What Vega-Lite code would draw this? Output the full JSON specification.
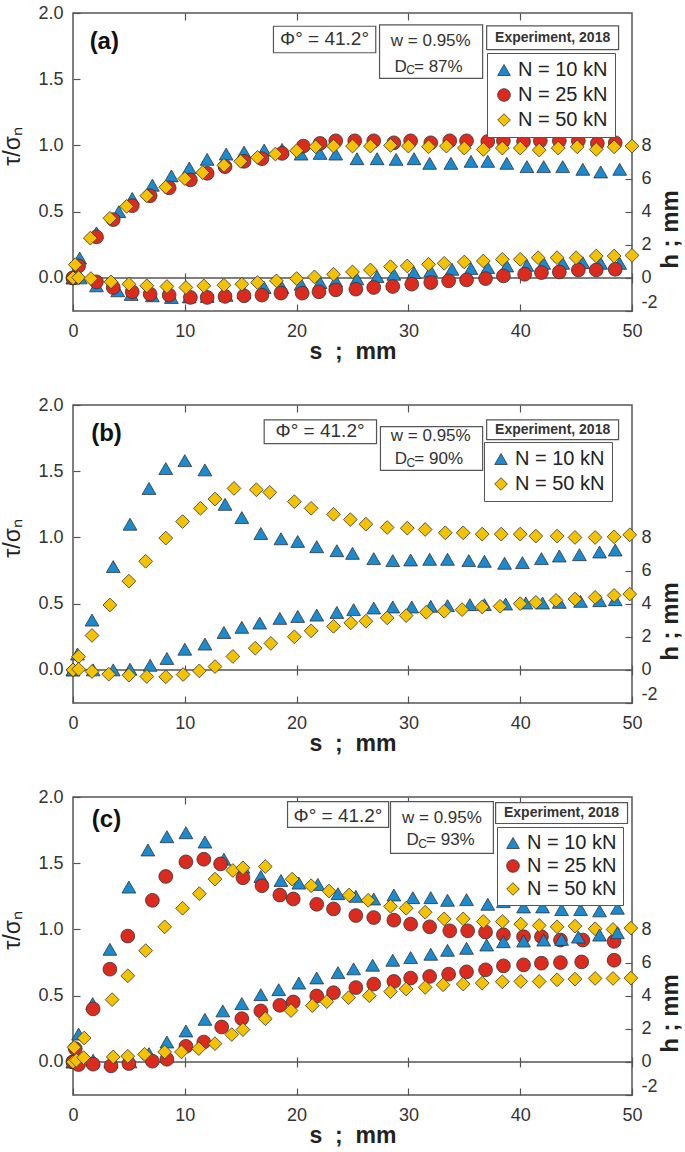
{
  "$schema": "https://vega.github.io/schema/vega-lite/v6.json",
  "background": "white",
  "padding": {"left": 0, "top": 3, "right": 0, "bottom": 0},
  "autosize": {"type": "pad"},
  "spacing": 31,
  "config": {
    "font": "Liberation Sans",
    "view": {"stroke": "#555", "strokeWidth": 1.5},
    "axis": {"labelFontSize": 18, "labelColor": "#333", "tickColor": "#555", "tickWidth": 1.2, "domain": false, "grid": false, "titleColor": "#222", "labelFlush": false},
    "text": {"color": "#333"}
  },
  "data": {"values": [{}]},
  "datasets": {
    "a_t": [
      {"N":"10","s":0,"v":0},{"N":"10","s":0.6,"v":0.15},{"N":"10","s":2.1,"v":0.34},{"N":"10","s":4.1,"v":0.5},{"N":"10","s":5.3,"v":0.6},{"N":"10","s":7.1,"v":0.7},{"N":"10","s":8.8,"v":0.77},{"N":"10","s":10.4,"v":0.83},{"N":"10","s":12,"v":0.895},{"N":"10","s":13.7,"v":0.935},{"N":"10","s":15.3,"v":0.95},{"N":"10","s":17.1,"v":0.965},{"N":"10","s":18.7,"v":0.97},{"N":"10","s":20.4,"v":0.935},{"N":"10","s":22.1,"v":0.94},{"N":"10","s":23.5,"v":0.935},{"N":"10","s":25.4,"v":0.9},{"N":"10","s":27.2,"v":0.9},{"N":"10","s":28.9,"v":0.895},{"N":"10","s":30.5,"v":0.9},{"N":"10","s":31.9,"v":0.865},{"N":"10","s":33.8,"v":0.865},{"N":"10","s":35.6,"v":0.88},{"N":"10","s":37.1,"v":0.88},{"N":"10","s":38.8,"v":0.865},{"N":"10","s":40.6,"v":0.84},{"N":"10","s":42.1,"v":0.84},{"N":"10","s":43.8,"v":0.84},{"N":"10","s":45.6,"v":0.82},{"N":"10","s":47.2,"v":0.8},{"N":"10","s":48.9,"v":0.82},
      {"N":"25","s":0,"v":0},{"N":"25","s":0.5,"v":0.09},{"N":"25","s":2.1,"v":0.31},{"N":"25","s":3.6,"v":0.44},{"N":"25","s":5.3,"v":0.545},{"N":"25","s":6.9,"v":0.62},{"N":"25","s":8.6,"v":0.68},{"N":"25","s":10.5,"v":0.74},{"N":"25","s":12,"v":0.79},{"N":"25","s":13.6,"v":0.84},{"N":"25","s":15.3,"v":0.88},{"N":"25","s":16.9,"v":0.9},{"N":"25","s":18.7,"v":0.94},{"N":"25","s":20.6,"v":0.995},{"N":"25","s":22.1,"v":1.015},{"N":"25","s":23.5,"v":1.035},{"N":"25","s":25.2,"v":1.035},{"N":"25","s":26.9,"v":1.035},{"N":"25","s":28.7,"v":1.02},{"N":"25","s":30.2,"v":1.035},{"N":"25","s":32,"v":1.02},{"N":"25","s":33.7,"v":1.035},{"N":"25","s":35.2,"v":1.035},{"N":"25","s":37.1,"v":1.03},{"N":"25","s":38.5,"v":1.035},{"N":"25","s":40.3,"v":1.03},{"N":"25","s":41.8,"v":1.035},{"N":"25","s":43.5,"v":1.035},{"N":"25","s":45.2,"v":1.035},{"N":"25","s":46.9,"v":1.015},{"N":"25","s":48.5,"v":1.02},
      {"N":"50","s":0,"v":0},{"N":"50","s":0.2,"v":0.1},{"N":"50","s":1.55,"v":0.3},{"N":"50","s":3.3,"v":0.45},{"N":"50","s":4.8,"v":0.54},{"N":"50","s":6.6,"v":0.62},{"N":"50","s":8.3,"v":0.685},{"N":"50","s":10,"v":0.75},{"N":"50","s":11.6,"v":0.795},{"N":"50","s":13.5,"v":0.85},{"N":"50","s":15,"v":0.88},{"N":"50","s":16.5,"v":0.91},{"N":"50","s":18.1,"v":0.935},{"N":"50","s":20,"v":0.96},{"N":"50","s":21.7,"v":0.99},{"N":"50","s":23.3,"v":0.995},{"N":"50","s":25,"v":0.995},{"N":"50","s":26.6,"v":0.995},{"N":"50","s":28.4,"v":1},{"N":"50","s":30,"v":0.995},{"N":"50","s":31.8,"v":0.99},{"N":"50","s":33.4,"v":0.995},{"N":"50","s":35,"v":0.98},{"N":"50","s":36.7,"v":0.97},{"N":"50","s":38.4,"v":0.98},{"N":"50","s":40,"v":0.98},{"N":"50","s":41.7,"v":0.965},{"N":"50","s":43.4,"v":0.98},{"N":"50","s":45.1,"v":0.99},{"N":"50","s":46.8,"v":0.97},{"N":"50","s":48.4,"v":0.99},{"N":"50","s":50,"v":0.995}
    ],
    "a_h": [
      {"N":"10","s":0,"v":0},{"N":"10","s":0.65,"v":0},{"N":"10","s":2.1,"v":-0.48},{"N":"10","s":4,"v":-0.78},{"N":"10","s":5.2,"v":-1},{"N":"10","s":7.1,"v":-1.08},{"N":"10","s":8.8,"v":-1.18},{"N":"10","s":10.4,"v":-1.15},{"N":"10","s":12,"v":-1.12},{"N":"10","s":13.7,"v":-1.05},{"N":"10","s":15.3,"v":-0.9},{"N":"10","s":17.1,"v":-0.58},{"N":"10","s":18.7,"v":-0.58},{"N":"10","s":20.4,"v":-0.38},{"N":"10","s":22.1,"v":-0.28},{"N":"10","s":23.5,"v":-0.18},{"N":"10","s":25.4,"v":-0.06},{"N":"10","s":27.2,"v":0.08},{"N":"10","s":28.7,"v":0.22},{"N":"10","s":30.5,"v":0.32},{"N":"10","s":32,"v":0.42},{"N":"10","s":33.9,"v":0.52},{"N":"10","s":35.6,"v":0.56},{"N":"10","s":37.1,"v":0.62},{"N":"10","s":38.8,"v":0.72},{"N":"10","s":40.6,"v":0.76},{"N":"10","s":42.1,"v":0.88},{"N":"10","s":43.8,"v":0.88},{"N":"10","s":45.6,"v":0.92},{"N":"10","s":47.2,"v":0.88},{"N":"10","s":48.9,"v":0.88},
      {"N":"25","s":0,"v":0},{"N":"25","s":2.1,"v":-0.24},{"N":"25","s":3.6,"v":-0.58},{"N":"25","s":5.3,"v":-0.84},{"N":"25","s":6.9,"v":-0.98},{"N":"25","s":8.6,"v":-1.04},{"N":"25","s":10.5,"v":-1.18},{"N":"25","s":12,"v":-1.18},{"N":"25","s":13.6,"v":-1.12},{"N":"25","s":15.3,"v":-1.08},{"N":"25","s":16.9,"v":-1.04},{"N":"25","s":18.6,"v":-0.92},{"N":"25","s":20.5,"v":-0.92},{"N":"25","s":22,"v":-0.84},{"N":"25","s":23.5,"v":-0.72},{"N":"25","s":25.3,"v":-0.68},{"N":"25","s":26.9,"v":-0.58},{"N":"25","s":28.6,"v":-0.52},{"N":"25","s":30.3,"v":-0.38},{"N":"25","s":32,"v":-0.28},{"N":"25","s":33.6,"v":-0.18},{"N":"25","s":35.2,"v":-0.12},{"N":"25","s":36.9,"v":-0.04},{"N":"25","s":38.5,"v":0.12},{"N":"25","s":40.4,"v":0.22},{"N":"25","s":41.9,"v":0.32},{"N":"25","s":43.5,"v":0.36},{"N":"25","s":45.2,"v":0.48},{"N":"25","s":46.8,"v":0.48},{"N":"25","s":48.5,"v":0.52},
      {"N":"50","s":0,"v":0},{"N":"50","s":0.5,"v":0.02},{"N":"50","s":1.6,"v":-0.04},{"N":"50","s":3.4,"v":-0.24},{"N":"50","s":5,"v":-0.38},{"N":"50","s":6.6,"v":-0.48},{"N":"50","s":8.4,"v":-0.52},{"N":"50","s":10.1,"v":-0.58},{"N":"50","s":11.7,"v":-0.48},{"N":"50","s":13.5,"v":-0.44},{"N":"50","s":15.1,"v":-0.38},{"N":"50","s":16.5,"v":-0.28},{"N":"50","s":18.2,"v":-0.18},{"N":"50","s":20,"v":-0.04},{"N":"50","s":21.6,"v":0.06},{"N":"50","s":23.3,"v":0.22},{"N":"50","s":25,"v":0.36},{"N":"50","s":26.6,"v":0.48},{"N":"50","s":28.4,"v":0.68},{"N":"50","s":29.9,"v":0.72},{"N":"50","s":31.8,"v":0.82},{"N":"50","s":33.2,"v":0.88},{"N":"50","s":35,"v":0.96},{"N":"50","s":36.7,"v":1.02},{"N":"50","s":38.4,"v":1.12},{"N":"50","s":40,"v":1.12},{"N":"50","s":41.6,"v":1.22},{"N":"50","s":43.3,"v":1.22},{"N":"50","s":45,"v":1.22},{"N":"50","s":46.8,"v":1.32},{"N":"50","s":48.4,"v":1.32},{"N":"50","s":50,"v":1.36}
    ],
    "b_t": [
      {"N":"10","s":0,"v":0},{"N":"10","s":0.4,"v":0.12},{"N":"10","s":1.7,"v":0.376},{"N":"10","s":3.6,"v":0.78},{"N":"10","s":5.1,"v":1.1},{"N":"10","s":6.8,"v":1.37},{"N":"10","s":8.3,"v":1.52},{"N":"10","s":10,"v":1.58},{"N":"10","s":11.8,"v":1.51},{"N":"10","s":13.6,"v":1.25},{"N":"10","s":15.1,"v":1.15},{"N":"10","s":16.8,"v":1.03},{"N":"10","s":18.6,"v":0.99},{"N":"10","s":20.1,"v":0.97},{"N":"10","s":21.8,"v":0.93},{"N":"10","s":23.6,"v":0.9},{"N":"10","s":25,"v":0.88},{"N":"10","s":26.9,"v":0.84},{"N":"10","s":28.6,"v":0.825},{"N":"10","s":30.2,"v":0.83},{"N":"10","s":31.9,"v":0.835},{"N":"10","s":33.5,"v":0.835},{"N":"10","s":35.4,"v":0.825},{"N":"10","s":36.8,"v":0.82},{"N":"10","s":38.6,"v":0.805},{"N":"10","s":40.2,"v":0.81},{"N":"10","s":41.9,"v":0.84},{"N":"10","s":43.5,"v":0.86},{"N":"10","s":45.3,"v":0.87},{"N":"10","s":47.1,"v":0.89},{"N":"10","s":48.5,"v":0.905},
      {"N":"50","s":0,"v":0},{"N":"50","s":0.5,"v":0.1},{"N":"50","s":1.7,"v":0.26},{"N":"50","s":3.3,"v":0.49},{"N":"50","s":5,"v":0.67},{"N":"50","s":6.5,"v":0.82},{"N":"50","s":8.3,"v":0.995},{"N":"50","s":9.8,"v":1.12},{"N":"50","s":11.4,"v":1.22},{"N":"50","s":12.7,"v":1.29},{"N":"50","s":14.4,"v":1.37},{"N":"50","s":16.4,"v":1.36},{"N":"50","s":17.6,"v":1.34},{"N":"50","s":19.8,"v":1.27},{"N":"50","s":21.3,"v":1.22},{"N":"50","s":23.3,"v":1.175},{"N":"50","s":24.8,"v":1.135},{"N":"50","s":26.2,"v":1.1},{"N":"50","s":28.1,"v":1.075},{"N":"50","s":29.9,"v":1.07},{"N":"50","s":31.5,"v":1.06},{"N":"50","s":33.3,"v":1.035},{"N":"50","s":34.9,"v":1.035},{"N":"50","s":36.6,"v":1.025},{"N":"50","s":38.3,"v":1.025},{"N":"50","s":40,"v":1.025},{"N":"50","s":41.4,"v":1.01},{"N":"50","s":43.3,"v":1.01},{"N":"50","s":44.9,"v":1},{"N":"50","s":46.7,"v":1},{"N":"50","s":48.4,"v":1.005},{"N":"50","s":49.8,"v":1.02}
    ],
    "b_h": [
      {"N":"10","s":0,"v":0},{"N":"10","s":1.8,"v":0},{"N":"10","s":3.6,"v":0},{"N":"10","s":5.1,"v":0.04},{"N":"10","s":6.9,"v":0.28},{"N":"10","s":8.4,"v":0.69},{"N":"10","s":10,"v":1.25},{"N":"10","s":11.8,"v":1.56},{"N":"10","s":13.5,"v":2.26},{"N":"10","s":15.1,"v":2.57},{"N":"10","s":16.7,"v":2.83},{"N":"10","s":18.5,"v":3.11},{"N":"10","s":20.1,"v":3.23},{"N":"10","s":21.8,"v":3.31},{"N":"10","s":23.6,"v":3.47},{"N":"10","s":25.1,"v":3.64},{"N":"10","s":26.9,"v":3.74},{"N":"10","s":28.6,"v":3.8},{"N":"10","s":30.3,"v":3.8},{"N":"10","s":32,"v":3.84},{"N":"10","s":33.5,"v":3.88},{"N":"10","s":35.5,"v":3.94},{"N":"10","s":36.8,"v":3.94},{"N":"10","s":38.7,"v":3.98},{"N":"10","s":40.5,"v":4.04},{"N":"10","s":42,"v":4.04},{"N":"10","s":43.5,"v":4.08},{"N":"10","s":45.4,"v":4.14},{"N":"10","s":47.1,"v":4.18},{"N":"10","s":48.5,"v":4.24},
      {"N":"50","s":0,"v":0},{"N":"50","s":0.5,"v":0.04},{"N":"50","s":1.7,"v":-0.1},{"N":"50","s":3.2,"v":-0.26},{"N":"50","s":5,"v":-0.32},{"N":"50","s":6.6,"v":-0.4},{"N":"50","s":8.3,"v":-0.42},{"N":"50","s":9.85,"v":-0.28},{"N":"50","s":11.3,"v":-0.06},{"N":"50","s":12.7,"v":0.2},{"N":"50","s":14.3,"v":0.81},{"N":"50","s":16.3,"v":1.31},{"N":"50","s":17.7,"v":1.6},{"N":"50","s":19.8,"v":2},{"N":"50","s":21.3,"v":2.36},{"N":"50","s":23.3,"v":2.63},{"N":"50","s":24.85,"v":2.84},{"N":"50","s":26.2,"v":2.94},{"N":"50","s":28.1,"v":3.14},{"N":"50","s":29.8,"v":3.28},{"N":"50","s":31.6,"v":3.48},{"N":"50","s":33.2,"v":3.54},{"N":"50","s":34.8,"v":3.64},{"N":"50","s":36.6,"v":3.8},{"N":"50","s":38.2,"v":3.84},{"N":"50","s":40,"v":4},{"N":"50","s":41.4,"v":4.08},{"N":"50","s":43.2,"v":4.2},{"N":"50","s":44.9,"v":4.28},{"N":"50","s":46.7,"v":4.38},{"N":"50","s":48.4,"v":4.5},{"N":"50","s":49.8,"v":4.58}
    ],
    "c_t": [
      {"N":"10","s":0,"v":0},{"N":"10","s":0.5,"v":0.21},{"N":"10","s":1.76,"v":0.44},{"N":"10","s":3.3,"v":0.85},{"N":"10","s":5,"v":1.32},{"N":"10","s":6.7,"v":1.6},{"N":"10","s":8.4,"v":1.7},{"N":"10","s":10.1,"v":1.73},{"N":"10","s":11.8,"v":1.66},{"N":"10","s":13.5,"v":1.53},{"N":"10","s":15.2,"v":1.47},{"N":"10","s":16.8,"v":1.4},{"N":"10","s":18.6,"v":1.37},{"N":"10","s":20.2,"v":1.35},{"N":"10","s":21.9,"v":1.34},{"N":"10","s":23.7,"v":1.27},{"N":"10","s":25.3,"v":1.25},{"N":"10","s":26.9,"v":1.23},{"N":"10","s":28.7,"v":1.26},{"N":"10","s":30.4,"v":1.24},{"N":"10","s":32,"v":1.24},{"N":"10","s":33.5,"v":1.22},{"N":"10","s":35.2,"v":1.225},{"N":"10","s":37.1,"v":1.19},{"N":"10","s":38.5,"v":1.21},{"N":"10","s":40.3,"v":1.17},{"N":"10","s":42,"v":1.17},{"N":"10","s":43.7,"v":1.15},{"N":"10","s":45.4,"v":1.15},{"N":"10","s":47.1,"v":1.14},{"N":"10","s":48.7,"v":1.16},
      {"N":"25","s":0,"v":0},{"N":"25","s":0.2,"v":0.1},{"N":"25","s":1.8,"v":0.4},{"N":"25","s":3.3,"v":0.7},{"N":"25","s":4.9,"v":0.95},{"N":"25","s":7.1,"v":1.22},{"N":"25","s":8.3,"v":1.4},{"N":"25","s":10.1,"v":1.51},{"N":"25","s":11.7,"v":1.53},{"N":"25","s":13.2,"v":1.495},{"N":"25","s":15.2,"v":1.39},{"N":"25","s":16.9,"v":1.33},{"N":"25","s":18.5,"v":1.26},{"N":"25","s":19.7,"v":1.23},{"N":"25","s":21.8,"v":1.19},{"N":"25","s":23.3,"v":1.155},{"N":"25","s":25.3,"v":1.105},{"N":"25","s":26.9,"v":1.09},{"N":"25","s":28.7,"v":1.07},{"N":"25","s":30.2,"v":1.04},{"N":"25","s":31.9,"v":1.02},{"N":"25","s":33.7,"v":0.99},{"N":"25","s":35.3,"v":0.99},{"N":"25","s":36.9,"v":0.98},{"N":"25","s":38.5,"v":0.96},{"N":"25","s":40.3,"v":0.945},{"N":"25","s":41.9,"v":0.945},{"N":"25","s":43.6,"v":0.92},{"N":"25","s":45.6,"v":0.92},{"N":"25","s":48.4,"v":0.91},
      {"N":"50","s":0,"v":0},{"N":"50","s":0.1,"v":0.11},{"N":"50","s":1,"v":0.18},{"N":"50","s":3.5,"v":0.47},{"N":"50","s":4.9,"v":0.65},{"N":"50","s":6.5,"v":0.84},{"N":"50","s":8.2,"v":1.02},{"N":"50","s":9.8,"v":1.16},{"N":"50","s":11.3,"v":1.27},{"N":"50","s":12.7,"v":1.38},{"N":"50","s":14.3,"v":1.445},{"N":"50","s":15.2,"v":1.465},{"N":"50","s":17.2,"v":1.475},{"N":"50","s":19.6,"v":1.38},{"N":"50","s":21.3,"v":1.33},{"N":"50","s":22.9,"v":1.29},{"N":"50","s":24.7,"v":1.26},{"N":"50","s":26.4,"v":1.22},{"N":"50","s":28.4,"v":1.175},{"N":"50","s":29.8,"v":1.16},{"N":"50","s":31.5,"v":1.13},{"N":"50","s":33.2,"v":1.08},{"N":"50","s":34.9,"v":1.08},{"N":"50","s":36.7,"v":1.06},{"N":"50","s":38.4,"v":1.06},{"N":"50","s":40.05,"v":1.04},{"N":"50","s":41.7,"v":1.03},{"N":"50","s":43.3,"v":1.02},{"N":"50","s":44.9,"v":1.025},{"N":"50","s":46.7,"v":1.005},{"N":"50","s":48.3,"v":1},{"N":"50","s":49.9,"v":1.01}
    ],
    "c_h": [
      {"N":"10","s":0,"v":0},{"N":"10","s":1.8,"v":0.1},{"N":"10","s":3.4,"v":0},{"N":"10","s":5.1,"v":0},{"N":"10","s":6.8,"v":0.5},{"N":"10","s":8.4,"v":1.2},{"N":"10","s":10.1,"v":1.87},{"N":"10","s":11.8,"v":2.57},{"N":"10","s":13.4,"v":3.08},{"N":"10","s":15.1,"v":3.52},{"N":"10","s":16.8,"v":4.06},{"N":"10","s":18.4,"v":4.36},{"N":"10","s":20.2,"v":4.76},{"N":"10","s":21.8,"v":5.07},{"N":"10","s":23.7,"v":5.39},{"N":"10","s":25.1,"v":5.62},{"N":"10","s":26.8,"v":5.84},{"N":"10","s":28.6,"v":6.14},{"N":"10","s":30.2,"v":6.3},{"N":"10","s":32,"v":6.5},{"N":"10","s":33.5,"v":6.74},{"N":"10","s":35.2,"v":6.86},{"N":"10","s":37,"v":7.06},{"N":"10","s":38.5,"v":7.26},{"N":"10","s":40.3,"v":7.3},{"N":"10","s":42.1,"v":7.36},{"N":"10","s":43.7,"v":7.4},{"N":"10","s":45.2,"v":7.54},{"N":"10","s":47.1,"v":7.66},{"N":"10","s":48.7,"v":7.8},
      {"N":"25","s":0,"v":0},{"N":"25","s":0.5,"v":-0.16},{"N":"25","s":1.8,"v":-0.14},{"N":"25","s":3.4,"v":-0.24},{"N":"25","s":5,"v":-0.1},{"N":"25","s":7.1,"v":0.04},{"N":"25","s":8.4,"v":0.16},{"N":"25","s":10.1,"v":0.94},{"N":"25","s":11.7,"v":1.2},{"N":"25","s":13.3,"v":2.11},{"N":"25","s":15.1,"v":2.61},{"N":"25","s":16.8,"v":3.08},{"N":"25","s":18.5,"v":3.42},{"N":"25","s":19.7,"v":3.62},{"N":"25","s":21.8,"v":3.98},{"N":"25","s":23.3,"v":4.18},{"N":"25","s":25.3,"v":4.49},{"N":"25","s":26.9,"v":4.7},{"N":"25","s":28.7,"v":4.86},{"N":"25","s":30.2,"v":5.06},{"N":"25","s":31.9,"v":5.16},{"N":"25","s":33.6,"v":5.3},{"N":"25","s":35.2,"v":5.44},{"N":"25","s":36.9,"v":5.56},{"N":"25","s":38.5,"v":5.8},{"N":"25","s":40.3,"v":5.86},{"N":"25","s":41.9,"v":5.96},{"N":"25","s":43.6,"v":6},{"N":"25","s":45.5,"v":6.04},{"N":"25","s":48.4,"v":6.14},
      {"N":"50","s":0,"v":0},{"N":"50","s":0.3,"v":0.1},{"N":"50","s":0.95,"v":0.26},{"N":"50","s":3.6,"v":0.3},{"N":"50","s":4.9,"v":0.34},{"N":"50","s":6.4,"v":0.46},{"N":"50","s":8.2,"v":0.6},{"N":"50","s":9.7,"v":0.6},{"N":"50","s":11.25,"v":0.8},{"N":"50","s":12.7,"v":1.1},{"N":"50","s":14.2,"v":1.65},{"N":"50","s":15.2,"v":1.95},{"N":"50","s":17.2,"v":2.61},{"N":"50","s":19.5,"v":3.1},{"N":"50","s":21.4,"v":3.4},{"N":"50","s":22.7,"v":3.64},{"N":"50","s":24.65,"v":3.88},{"N":"50","s":26.5,"v":4},{"N":"50","s":28.4,"v":4.24},{"N":"50","s":29.8,"v":4.4},{"N":"50","s":31.5,"v":4.5},{"N":"50","s":33.1,"v":4.66},{"N":"50","s":34.9,"v":4.7},{"N":"50","s":36.6,"v":4.76},{"N":"50","s":38.4,"v":4.84},{"N":"50","s":40.05,"v":4.86},{"N":"50","s":41.7,"v":4.86},{"N":"50","s":43.3,"v":4.96},{"N":"50","s":44.9,"v":5},{"N":"50","s":46.7,"v":5.04},{"N":"50","s":48.3,"v":5.04},{"N":"50","s":49.9,"v":5.06}
    ]
  },
  "resolve": {"scale": {"x": "independent", "y": "independent", "color": "independent", "shape": "independent"}},
  "vconcat": [
    {
      "width": 559, "height": 298,
      "resolve": {"scale": {"y": "independent"}, "axis": {"x": "independent"}},
      "layer": [
        {
          "layer": [
            {"mark": {"type": "rule", "color": "#555", "strokeWidth": 1.5}, "encoding": {"y": {"datum": 0, "type": "quantitative"}}},
            {"mark": {"type": "rect", "fill": "white", "stroke": "#555", "strokeWidth": 1.2}, "encoding": {"x": {"datum": 17.93, "type": "quantitative"}, "x2": {"datum": 27.08}, "y": {"datum": 1.9, "type": "quantitative"}, "y2": {"datum": 1.7}}},
            {"mark": {"type": "rect", "fill": "white", "stroke": "#555", "strokeWidth": 1.2}, "encoding": {"x": {"datum": 27.42, "type": "quantitative"}, "x2": {"datum": 36.64}, "y": {"datum": 1.91, "type": "quantitative"}, "y2": {"datum": 1.506}}},
            {"mark": {"type": "rect", "fill": "white", "stroke": "#555", "strokeWidth": 1.2}, "encoding": {"x": {"datum": 37.0, "type": "quantitative"}, "x2": {"datum": 48.8}, "y": {"datum": 1.903, "type": "quantitative"}, "y2": {"datum": 1.723}}},
            {"mark": {"type": "text", "text": "Φ° = 41.2°", "fontSize": 19, "align": "center", "baseline": "middle"}, "encoding": {"x": {"datum": 22.5, "type": "quantitative"}, "y": {"datum": 1.8, "type": "quantitative"}}},
            {"mark": {"type": "text", "text": "w = 0.95%", "fontSize": 17, "align": "center", "baseline": "middle"}, "encoding": {"x": {"datum": 32.0, "type": "quantitative"}, "y": {"datum": 1.785, "type": "quantitative"}}},
            {"mark": {"type": "text", "text": "D", "fontSize": 17, "align": "left", "baseline": "middle"}, "encoding": {"x": {"datum": 28.76, "type": "quantitative"}, "y": {"datum": 1.596, "type": "quantitative"}}},
            {"mark": {"type": "text", "text": "C", "fontSize": 12, "align": "left", "baseline": "middle"}, "encoding": {"x": {"datum": 29.8, "type": "quantitative"}, "y": {"datum": 1.566, "type": "quantitative"}}},
            {"mark": {"type": "text", "text": "= 87%", "fontSize": 17, "align": "left", "baseline": "middle"}, "encoding": {"x": {"datum": 30.5, "type": "quantitative"}, "y": {"datum": 1.596, "type": "quantitative"}}},
            {"mark": {"type": "text", "text": "Experiment, 2018", "fontSize": 14, "fontWeight": "bold", "align": "center", "baseline": "middle"}, "encoding": {"x": {"datum": 42.9, "type": "quantitative"}, "y": {"datum": 1.813, "type": "quantitative"}}},
            {"mark": {"type": "text", "text": "(a)", "fontSize": 24, "fontWeight": "bold", "color": "#111", "align": "center", "baseline": "middle"}, "encoding": {"x": {"datum": 2.8, "type": "quantitative"}, "y": {"datum": 1.78, "type": "quantitative"}}},
            {
              "data": {"name": "a_t"},
              "mark": {"type": "point", "filled": true, "size": 190, "opacity": 1, "stroke": "#333", "strokeWidth": 0.8},
              "encoding": {
                "x": {"field": "s", "type": "quantitative", "scale": {"domain": [0, 50], "nice": false}, "axis": {"orient": "bottom", "values": [0, 10, 20, 30, 40, 50], "tickSize": -7, "labelPadding": 18, "grid": true, "gridDash": [0, 259.9, 10, 1000], "gridColor": "#555", "gridWidth": 1.2, "title": "s\u00a0\u00a0;\u00a0\u00a0mm", "titleFontSize": 23, "titleFontWeight": "bold", "titlePadding": 0}},
                "y": {"field": "v", "type": "quantitative", "scale": {"domain": [-0.25, 2], "nice": false}, "axis": {"orient": "left", "values": [0, 0.5, 1, 1.5, 2], "format": ".1f", "tickSize": -7, "labelPadding": 17, "title": "τ/σₙ", "titleFontSize": 23, "titleFontWeight": "normal", "titleAngle": 270, "titleAlign": "center", "titleBaseline": "middle", "titleX": -61, "titleY": 133}},
                "color": {"field": "N", "type": "nominal", "scale": {"domain": ["10", "25", "50"], "range": ["#1a8bd0", "#dd2a1f", "#f5c200"]}, "legend": {"orient": "none", "legendX": 414, "legendY": 40, "title": null, "labelExpr": "'N = ' + datum.label + ' kN'", "labelFontSize": 20, "labelColor": "#222", "symbolSize": 160, "symbolStrokeColor": "#333", "symbolStrokeWidth": 0.8, "strokeColor": "#555", "fillColor": "white", "padding": 7, "rowPadding": 5, "labelOffset": 4}},
                "shape": {"field": "N", "type": "nominal", "scale": {"domain": ["10", "25", "50"], "range": ["triangle-up", "circle", "diamond"]}, "legend": {"orient": "none", "legendX": 414, "legendY": 40, "title": null, "labelExpr": "'N = ' + datum.label + ' kN'", "labelFontSize": 20, "labelColor": "#222", "symbolSize": 160, "symbolStrokeColor": "#333", "symbolStrokeWidth": 0.8, "strokeColor": "#555", "fillColor": "white", "padding": 7, "rowPadding": 5, "labelOffset": 4}}
              }
            }
          ]
        },
        {
          "data": {"name": "a_h"},
          "mark": {"type": "point", "filled": true, "size": 190, "opacity": 1, "stroke": "#333", "strokeWidth": 0.8},
          "encoding": {
            "x": {"field": "s", "type": "quantitative", "scale": {"domain": [0, 50], "nice": false}, "axis": {"orient": "top", "values": [10, 20, 30, 40], "tickSize": -7, "labels": false, "title": null}},
            "y": {"field": "v", "type": "quantitative", "scale": {"domain": [-2, 16], "nice": false}, "axis": {"orient": "right", "values": [-2, 0, 2, 4, 6, 8], "labelExpr": "replace(datum.label, '−', '-')", "tickSize": -7, "labelPadding": 16, "labelFlush": true, "title": "h ; mm", "titleFontSize": 24, "titleFontWeight": "bold", "titleAngle": 270, "titleAlign": "center", "titleBaseline": "middle", "titleX": 38, "titleY": 216}},
            "color": {"field": "N", "type": "nominal", "scale": {"domain": ["10", "25", "50"], "range": ["#1a8bd0", "#dd2a1f", "#f5c200"]}, "legend": {"orient": "none", "legendX": 414, "legendY": 40, "title": null, "labelExpr": "'N = ' + datum.label + ' kN'", "labelFontSize": 20, "labelColor": "#222", "symbolSize": 160, "symbolStrokeColor": "#333", "symbolStrokeWidth": 0.8, "strokeColor": "#555", "fillColor": "white", "padding": 7, "rowPadding": 5, "labelOffset": 4}},
            "shape": {"field": "N", "type": "nominal", "scale": {"domain": ["10", "25", "50"], "range": ["triangle-up", "circle", "diamond"]}, "legend": {"orient": "none", "legendX": 414, "legendY": 40, "title": null, "labelExpr": "'N = ' + datum.label + ' kN'", "labelFontSize": 20, "labelColor": "#222", "symbolSize": 160, "symbolStrokeColor": "#333", "symbolStrokeWidth": 0.8, "strokeColor": "#555", "fillColor": "white", "padding": 7, "rowPadding": 5, "labelOffset": 4}}
          }
        }
      ]
    },
    {
      "width": 559, "height": 298,
      "resolve": {"scale": {"y": "independent"}, "axis": {"x": "independent"}},
      "layer": [
        {
          "layer": [
            {"mark": {"type": "rule", "color": "#555", "strokeWidth": 1.5}, "encoding": {"y": {"datum": 0, "type": "quantitative"}}},
            {"mark": {"type": "rect", "fill": "white", "stroke": "#555", "strokeWidth": 1.2}, "encoding": {"x": {"datum": 17.1, "type": "quantitative"}, "x2": {"datum": 27.15}, "y": {"datum": 1.888, "type": "quantitative"}, "y2": {"datum": 1.708}}},
            {"mark": {"type": "rect", "fill": "white", "stroke": "#555", "strokeWidth": 1.2}, "encoding": {"x": {"datum": 27.5, "type": "quantitative"}, "x2": {"datum": 36.64}, "y": {"datum": 1.836, "type": "quantitative"}, "y2": {"datum": 1.506}}},
            {"mark": {"type": "rect", "fill": "white", "stroke": "#555", "strokeWidth": 1.2}, "encoding": {"x": {"datum": 37.0, "type": "quantitative"}, "x2": {"datum": 48.8}, "y": {"datum": 1.888, "type": "quantitative"}, "y2": {"datum": 1.738}}},
            {"mark": {"type": "text", "text": "Φ° = 41.2°", "fontSize": 19, "align": "center", "baseline": "middle"}, "encoding": {"x": {"datum": 22.1, "type": "quantitative"}, "y": {"datum": 1.8, "type": "quantitative"}}},
            {"mark": {"type": "text", "text": "w = 0.95%", "fontSize": 17, "align": "center", "baseline": "middle"}, "encoding": {"x": {"datum": 32.0, "type": "quantitative"}, "y": {"datum": 1.766, "type": "quantitative"}}},
            {"mark": {"type": "text", "text": "D", "fontSize": 17, "align": "left", "baseline": "middle"}, "encoding": {"x": {"datum": 28.79, "type": "quantitative"}, "y": {"datum": 1.593, "type": "quantitative"}}},
            {"mark": {"type": "text", "text": "C", "fontSize": 12, "align": "left", "baseline": "middle"}, "encoding": {"x": {"datum": 29.83, "type": "quantitative"}, "y": {"datum": 1.563, "type": "quantitative"}}},
            {"mark": {"type": "text", "text": "= 90%", "fontSize": 17, "align": "left", "baseline": "middle"}, "encoding": {"x": {"datum": 30.53, "type": "quantitative"}, "y": {"datum": 1.593, "type": "quantitative"}}},
            {"mark": {"type": "text", "text": "Experiment, 2018", "fontSize": 14, "fontWeight": "bold", "align": "center", "baseline": "middle"}, "encoding": {"x": {"datum": 42.9, "type": "quantitative"}, "y": {"datum": 1.813, "type": "quantitative"}}},
            {"mark": {"type": "text", "text": "(b)", "fontSize": 24, "fontWeight": "bold", "color": "#111", "align": "center", "baseline": "middle"}, "encoding": {"x": {"datum": 3.0, "type": "quantitative"}, "y": {"datum": 1.78, "type": "quantitative"}}},
            {
              "data": {"name": "b_t"},
              "mark": {"type": "point", "filled": true, "size": 190, "opacity": 1, "stroke": "#333", "strokeWidth": 0.8},
              "encoding": {
                "x": {"field": "s", "type": "quantitative", "scale": {"domain": [0, 50], "nice": false}, "axis": {"orient": "bottom", "values": [0, 10, 20, 30, 40, 50], "tickSize": -7, "labelPadding": 18, "grid": true, "gridDash": [0, 259.9, 10, 1000], "gridColor": "#555", "gridWidth": 1.2, "title": "s\u00a0\u00a0;\u00a0\u00a0mm", "titleFontSize": 23, "titleFontWeight": "bold", "titlePadding": 0}},
                "y": {"field": "v", "type": "quantitative", "scale": {"domain": [-0.25, 2], "nice": false}, "axis": {"orient": "left", "values": [0, 0.5, 1, 1.5, 2], "format": ".1f", "tickSize": -7, "labelPadding": 17, "title": "τ/σₙ", "titleFontSize": 23, "titleFontWeight": "normal", "titleAngle": 270, "titleAlign": "center", "titleBaseline": "middle", "titleX": -61, "titleY": 133}},
                "color": {"field": "N", "type": "nominal", "scale": {"domain": ["10", "50"], "range": ["#1a8bd0", "#f5c200"]}, "legend": {"orient": "none", "legendX": 411, "legendY": 37, "title": null, "labelExpr": "'N = ' + datum.label + ' kN'", "labelFontSize": 20, "labelColor": "#222", "symbolSize": 160, "symbolStrokeColor": "#333", "symbolStrokeWidth": 0.8, "strokeColor": "#555", "fillColor": "white", "padding": 7, "rowPadding": 5, "labelOffset": 4}},
                "shape": {"field": "N", "type": "nominal", "scale": {"domain": ["10", "50"], "range": ["triangle-up", "diamond"]}, "legend": {"orient": "none", "legendX": 411, "legendY": 37, "title": null, "labelExpr": "'N = ' + datum.label + ' kN'", "labelFontSize": 20, "labelColor": "#222", "symbolSize": 160, "symbolStrokeColor": "#333", "symbolStrokeWidth": 0.8, "strokeColor": "#555", "fillColor": "white", "padding": 7, "rowPadding": 5, "labelOffset": 4}}
              }
            }
          ]
        },
        {
          "data": {"name": "b_h"},
          "mark": {"type": "point", "filled": true, "size": 190, "opacity": 1, "stroke": "#333", "strokeWidth": 0.8},
          "encoding": {
            "x": {"field": "s", "type": "quantitative", "scale": {"domain": [0, 50], "nice": false}, "axis": {"orient": "top", "values": [10, 20, 30, 40], "tickSize": -7, "labels": false, "title": null}},
            "y": {"field": "v", "type": "quantitative", "scale": {"domain": [-2, 16], "nice": false}, "axis": {"orient": "right", "values": [-2, 0, 2, 4, 6, 8], "labelExpr": "replace(datum.label, '−', '-')", "tickSize": -7, "labelPadding": 16, "labelFlush": true, "title": "h ; mm", "titleFontSize": 24, "titleFontWeight": "bold", "titleAngle": 270, "titleAlign": "center", "titleBaseline": "middle", "titleX": 38, "titleY": 216}},
            "color": {"field": "N", "type": "nominal", "scale": {"domain": ["10", "50"], "range": ["#1a8bd0", "#f5c200"]}, "legend": {"orient": "none", "legendX": 411, "legendY": 37, "title": null, "labelExpr": "'N = ' + datum.label + ' kN'", "labelFontSize": 20, "labelColor": "#222", "symbolSize": 160, "symbolStrokeColor": "#333", "symbolStrokeWidth": 0.8, "strokeColor": "#555", "fillColor": "white", "padding": 7, "rowPadding": 5, "labelOffset": 4}},
            "shape": {"field": "N", "type": "nominal", "scale": {"domain": ["10", "50"], "range": ["triangle-up", "diamond"]}, "legend": {"orient": "none", "legendX": 411, "legendY": 37, "title": null, "labelExpr": "'N = ' + datum.label + ' kN'", "labelFontSize": 20, "labelColor": "#222", "symbolSize": 160, "symbolStrokeColor": "#333", "symbolStrokeWidth": 0.8, "strokeColor": "#555", "fillColor": "white", "padding": 7, "rowPadding": 5, "labelOffset": 4}}
          }
        }
      ]
    },
    {
      "width": 559, "height": 298,
      "resolve": {"scale": {"y": "independent"}, "axis": {"x": "independent"}},
      "layer": [
        {
          "layer": [
            {"mark": {"type": "rule", "color": "#555", "strokeWidth": 1.5}, "encoding": {"y": {"datum": 0, "type": "quantitative"}}},
            {"mark": {"type": "rect", "fill": "white", "stroke": "#555", "strokeWidth": 1.2}, "encoding": {"x": {"datum": 19.19, "type": "quantitative"}, "x2": {"datum": 28.23}, "y": {"datum": 1.965, "type": "quantitative"}, "y2": {"datum": 1.77}}},
            {"mark": {"type": "rect", "fill": "white", "stroke": "#555", "strokeWidth": 1.2}, "encoding": {"x": {"datum": 28.4, "type": "quantitative"}, "x2": {"datum": 37.6}, "y": {"datum": 1.965, "type": "quantitative"}, "y2": {"datum": 1.575}}},
            {"mark": {"type": "rect", "fill": "white", "stroke": "#555", "strokeWidth": 1.2}, "encoding": {"x": {"datum": 37.8, "type": "quantitative"}, "x2": {"datum": 49.6}, "y": {"datum": 1.958, "type": "quantitative"}, "y2": {"datum": 1.8}}},
            {"mark": {"type": "text", "text": "Φ° = 41.2°", "fontSize": 19, "align": "center", "baseline": "middle"}, "encoding": {"x": {"datum": 23.7, "type": "quantitative"}, "y": {"datum": 1.86, "type": "quantitative"}}},
            {"mark": {"type": "text", "text": "w = 0.95%", "fontSize": 17, "align": "center", "baseline": "middle"}, "encoding": {"x": {"datum": 33.0, "type": "quantitative"}, "y": {"datum": 1.843, "type": "quantitative"}}},
            {"mark": {"type": "text", "text": "D", "fontSize": 17, "align": "left", "baseline": "middle"}, "encoding": {"x": {"datum": 29.84, "type": "quantitative"}, "y": {"datum": 1.675, "type": "quantitative"}}},
            {"mark": {"type": "text", "text": "C", "fontSize": 12, "align": "left", "baseline": "middle"}, "encoding": {"x": {"datum": 30.88, "type": "quantitative"}, "y": {"datum": 1.645, "type": "quantitative"}}},
            {"mark": {"type": "text", "text": "= 93%", "fontSize": 17, "align": "left", "baseline": "middle"}, "encoding": {"x": {"datum": 31.58, "type": "quantitative"}, "y": {"datum": 1.675, "type": "quantitative"}}},
            {"mark": {"type": "text", "text": "Experiment, 2018", "fontSize": 14, "fontWeight": "bold", "align": "center", "baseline": "middle"}, "encoding": {"x": {"datum": 43.7, "type": "quantitative"}, "y": {"datum": 1.878, "type": "quantitative"}}},
            {"mark": {"type": "text", "text": "(c)", "fontSize": 24, "fontWeight": "bold", "color": "#111", "align": "center", "baseline": "middle"}, "encoding": {"x": {"datum": 3.0, "type": "quantitative"}, "y": {"datum": 1.823, "type": "quantitative"}}},
            {
              "data": {"name": "c_t"},
              "mark": {"type": "point", "filled": true, "size": 190, "opacity": 1, "stroke": "#333", "strokeWidth": 0.8},
              "encoding": {
                "x": {"field": "s", "type": "quantitative", "scale": {"domain": [0, 50], "nice": false}, "axis": {"orient": "bottom", "values": [0, 10, 20, 30, 40, 50], "tickSize": -7, "labelPadding": 18, "grid": true, "gridDash": [0, 259.9, 10, 1000], "gridColor": "#555", "gridWidth": 1.2, "title": "s\u00a0\u00a0;\u00a0\u00a0mm", "titleFontSize": 23, "titleFontWeight": "bold", "titlePadding": 0}},
                "y": {"field": "v", "type": "quantitative", "scale": {"domain": [-0.25, 2], "nice": false}, "axis": {"orient": "left", "values": [0, 0.5, 1, 1.5, 2], "format": ".1f", "tickSize": -7, "labelPadding": 17, "title": "τ/σₙ", "titleFontSize": 23, "titleFontWeight": "normal", "titleAngle": 270, "titleAlign": "center", "titleBaseline": "middle", "titleX": -61, "titleY": 133}},
                "color": {"field": "N", "type": "nominal", "scale": {"domain": ["10", "25", "50"], "range": ["#1a8bd0", "#dd2a1f", "#f5c200"]}, "legend": {"orient": "none", "legendX": 424, "legendY": 30, "title": null, "labelExpr": "'N = ' + datum.label + ' kN'", "labelFontSize": 20, "labelColor": "#222", "symbolSize": 160, "symbolStrokeColor": "#333", "symbolStrokeWidth": 0.8, "strokeColor": "#555", "fillColor": "white", "padding": 6, "rowPadding": 3, "labelOffset": 4}},
                "shape": {"field": "N", "type": "nominal", "scale": {"domain": ["10", "25", "50"], "range": ["triangle-up", "circle", "diamond"]}, "legend": {"orient": "none", "legendX": 424, "legendY": 30, "title": null, "labelExpr": "'N = ' + datum.label + ' kN'", "labelFontSize": 20, "labelColor": "#222", "symbolSize": 160, "symbolStrokeColor": "#333", "symbolStrokeWidth": 0.8, "strokeColor": "#555", "fillColor": "white", "padding": 6, "rowPadding": 3, "labelOffset": 4}}
              }
            }
          ]
        },
        {
          "data": {"name": "c_h"},
          "mark": {"type": "point", "filled": true, "size": 190, "opacity": 1, "stroke": "#333", "strokeWidth": 0.8},
          "encoding": {
            "x": {"field": "s", "type": "quantitative", "scale": {"domain": [0, 50], "nice": false}, "axis": {"orient": "top", "values": [10, 20, 30, 40], "tickSize": -7, "labels": false, "title": null}},
            "y": {"field": "v", "type": "quantitative", "scale": {"domain": [-2, 16], "nice": false}, "axis": {"orient": "right", "values": [-2, 0, 2, 4, 6, 8], "labelExpr": "replace(datum.label, '−', '-')", "tickSize": -7, "labelPadding": 16, "labelFlush": true, "title": "h ; mm", "titleFontSize": 24, "titleFontWeight": "bold", "titleAngle": 270, "titleAlign": "center", "titleBaseline": "middle", "titleX": 38, "titleY": 216}},
            "color": {"field": "N", "type": "nominal", "scale": {"domain": ["10", "25", "50"], "range": ["#1a8bd0", "#dd2a1f", "#f5c200"]}, "legend": {"orient": "none", "legendX": 424, "legendY": 30, "title": null, "labelExpr": "'N = ' + datum.label + ' kN'", "labelFontSize": 20, "labelColor": "#222", "symbolSize": 160, "symbolStrokeColor": "#333", "symbolStrokeWidth": 0.8, "strokeColor": "#555", "fillColor": "white", "padding": 6, "rowPadding": 3, "labelOffset": 4}},
            "shape": {"field": "N", "type": "nominal", "scale": {"domain": ["10", "25", "50"], "range": ["triangle-up", "circle", "diamond"]}, "legend": {"orient": "none", "legendX": 424, "legendY": 30, "title": null, "labelExpr": "'N = ' + datum.label + ' kN'", "labelFontSize": 20, "labelColor": "#222", "symbolSize": 160, "symbolStrokeColor": "#333", "symbolStrokeWidth": 0.8, "strokeColor": "#555", "fillColor": "white", "padding": 6, "rowPadding": 3, "labelOffset": 4}}
          }
        }
      ]
    }
  ]
}
